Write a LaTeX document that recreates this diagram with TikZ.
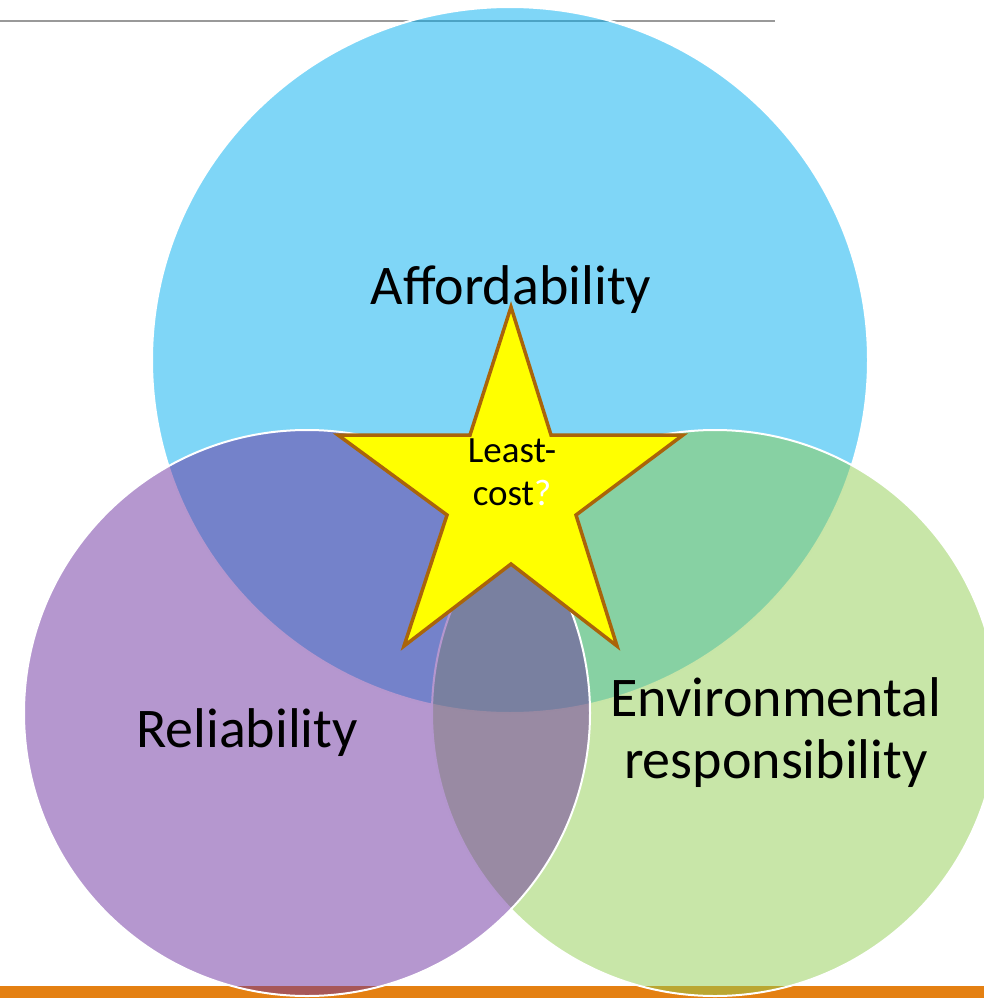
\documentclass[tikz,border=0pt]{standalone}
\usepackage{fontspec}
\setmainfont{Carlito}
\definecolor{afford}{RGB}{0,174,239}
\definecolor{relia}{RGB}{107,47,159}
\definecolor{enviro}{RGB}{145,205,81}
\definecolor{barorange}{RGB}{228,128,18}
\definecolor{starfill}{RGB}{255,255,0}
\definecolor{starline}{RGB}{170,100,10}
\begin{document}
\begin{tikzpicture}[
    x=1pt, y=-1pt,
    circ/.style={fill opacity=0.5, draw=white, line width=2pt},
    every node/.style={font=\fontsize{56}{62}\selectfont, align=center, inner sep=0pt}
]
\useasboundingbox (0,0) rectangle (984,998);
\clip (0,0) rectangle (984,998);
% rule and bar
\draw[gray!80, line width=1.5pt] (0,21) -- (775,21);
\fill[barorange] (0,986) rectangle (984,998);
% the three circles
\path[circ, fill=afford] (510,360) ellipse (358 and 353);
\path[circ, fill=enviro] (715,713) circle (283);
\path[circ, fill=relia] (307,713) circle (283);
% star
\draw[fill=starfill, draw=starline, line width=3.5pt, line join=miter]
    (511,307) -- (551,435) -- (683,435) -- (576,515) -- (617,646)
    -- (511,564) -- (404,646) -- (447,515) -- (338,435) -- (470,435) -- cycle;
\node (afford) at (511,290) {Affordability};
\node (relia) at (247,733) {Reliability};
\node (enviro) at (776,733) {Environmental\\responsibility};
\node[font=\fontsize{37}{43}\selectfont] (least) at (512,472) {Least-\\cost\textcolor{white}{?}};
\end{tikzpicture}
\end{document}
